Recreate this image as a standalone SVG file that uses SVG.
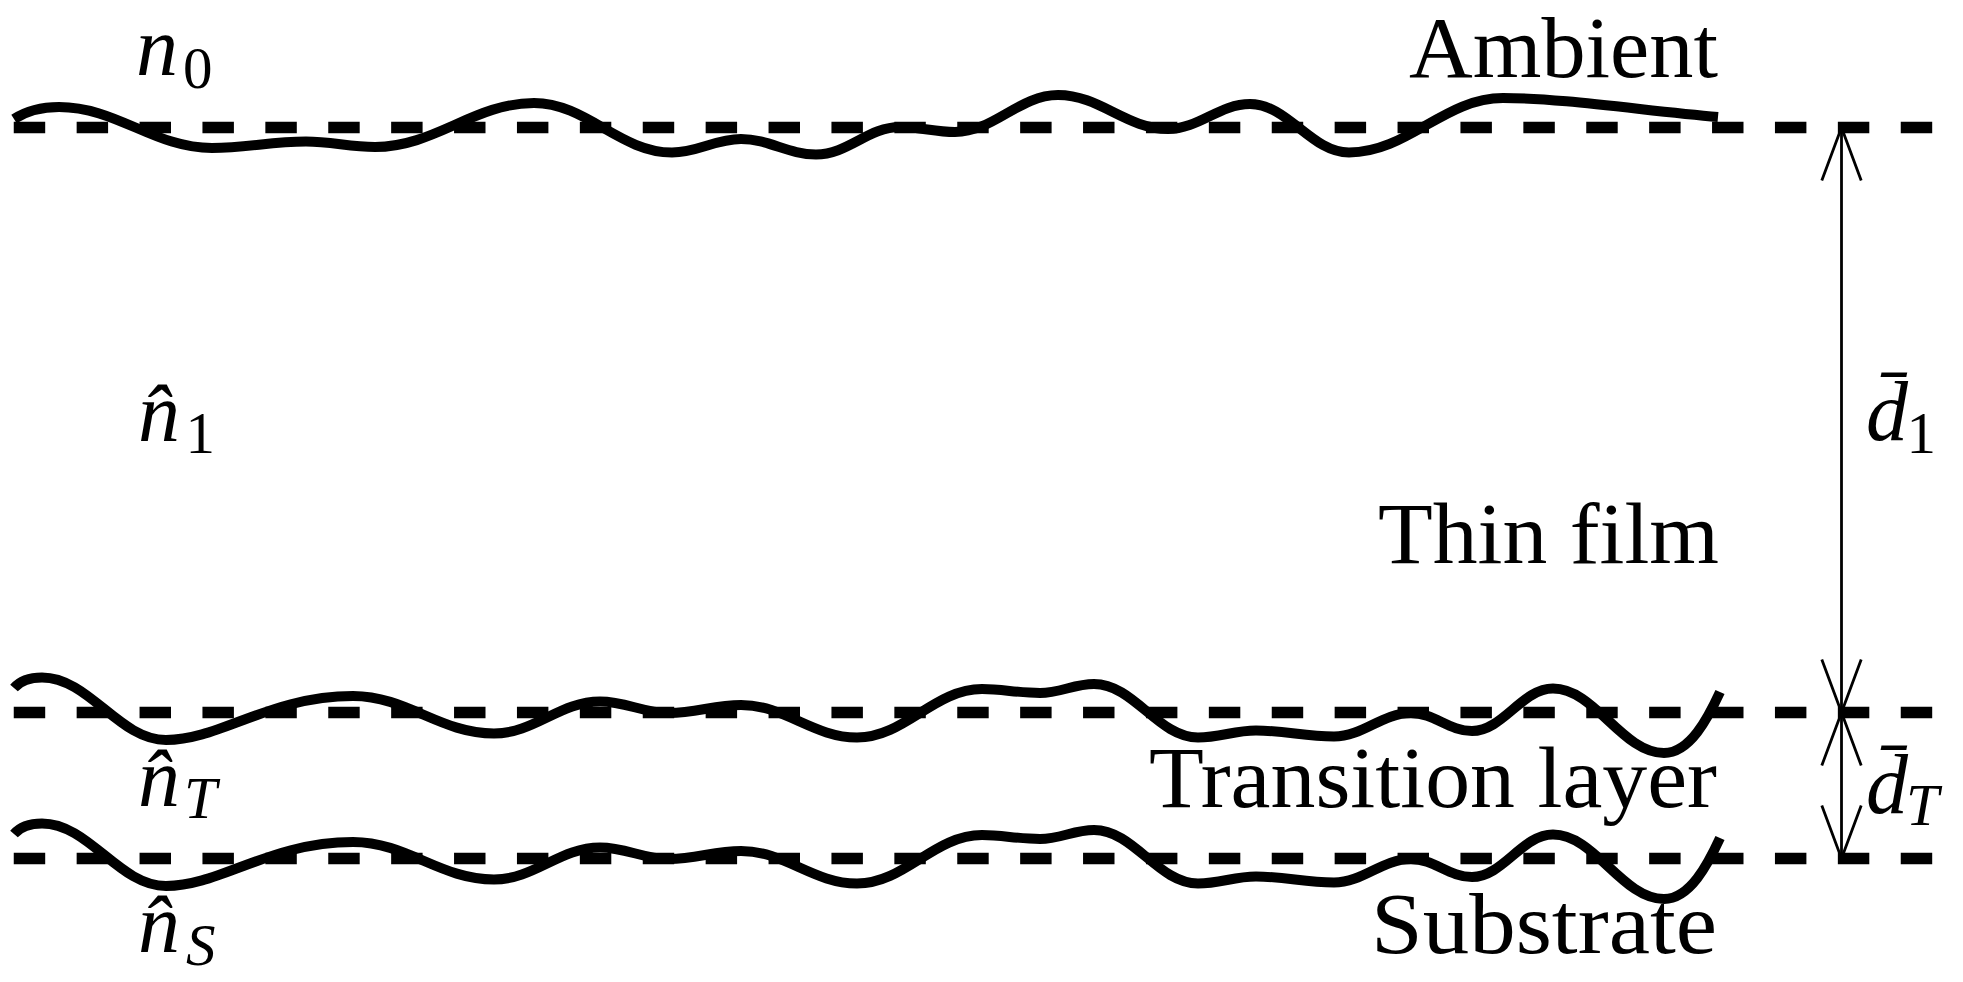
<svg xmlns="http://www.w3.org/2000/svg" width="1963" height="982" viewBox="0 0 1963 982">
<style>
.dash{stroke:#000;stroke-width:11.7;stroke-dasharray:31.45 31.45;fill:none}
.wave{stroke:#000;stroke-width:10;fill:none;stroke-linecap:butt;stroke-linejoin:round}
.arr{stroke:#000;stroke-width:2.8;fill:none}
.t{font-family:"Liberation Serif","Times New Roman",serif;font-size:86px;fill:#000}
.m{font-family:"Liberation Serif","Times New Roman",serif;font-size:84px;font-style:italic;fill:#000}
.s{font-size:59px}
.r{font-style:normal}
</style>
<defs>
<marker id="hd" markerUnits="userSpaceOnUse" markerWidth="60" markerHeight="50" viewBox="0 0 60 50" refX="55" refY="25" orient="auto-start-reverse" overflow="visible">
<path d="M2 5.3 L55 25 L2 44.7" class="arr"/>
</marker>
</defs>
<rect width="1963" height="982" fill="#fff"/>
<g id="reference-lines">
<line class="dash" x1="13.75" y1="127.5" x2="1932.2" y2="127.5"/>
<line class="dash" x1="13.75" y1="712.5" x2="1932.2" y2="712.5"/>
<line class="dash" x1="13.75" y1="858.5" x2="1932.2" y2="858.5"/>
</g>
<g id="interface-top">
<path class="wave" d="M14 119 C28 110 45 107 59 107 C117 107 154 148 212 148 C248 148 270 141.5 306 141.5 C332 141.5 349 147 375 147 C435 147 474 103 534 103 C586 103 620 152.5 672 152.5 C698 152.5 715 139 741 139 C769 139 788 154.5 816 154.5 C848 154.5 868 127 900 127 C921 127 934 132 955 132 C994 132 1019 95 1058 95 C1100 95 1126 129 1168 129 C1199 129 1219 104 1250 104 C1288 104 1311 152.5 1349 152.5 C1408 152.5 1444 98 1503 98 C1560 98 1640 110 1718 117"/>
</g>
<g id="interface-transition">
<path id="rough" class="wave" d="M14 688 C20 681 30 677.5 42 677.5 C89 677.5 119 740 166 740 C220 740 270 696 353 696 C407 696 440 733.5 494 733.5 C534 733.5 560 701.5 600 701.5 C626 701.5 643 713 669 713 C696 713 714 705 741 705 C785 705 813 737.5 857 737.5 C905 737.5 934 689 982 689 C1002 689 1018 693 1040 693 C1060 693 1074 684 1094 684 C1134 684 1158 737.5 1198 737.5 C1220 737.5 1234 730.5 1256 730.5 C1286 730.5 1304 736.5 1334 736.5 C1363 736.5 1382 713 1411 713 C1434 713 1449 731 1472 731 C1503 731 1522 688.5 1553 688.5 C1595 688.5 1622 753 1664 753 C1690 753 1708 718 1720 692"/>
</g>
<g id="interface-substrate">
<use href="#rough" transform="translate(0,146)"/>
</g>
<g id="label-n0"><text class="m" x="136" y="75">n<tspan class="s r" x="183" y="88.3">0</tspan></text></g>
<g id="label-n1"><text class="m" x="138" y="440.7">n̂<tspan class="s r" x="185.5" y="453.3">1</tspan></text></g>
<g id="label-nT"><text class="m" x="138" y="805.7">n̂<tspan class="s" x="184" y="818.3">T</tspan></text></g>
<g id="label-nS"><text class="m" x="138" y="951.7">n̂<tspan class="s" x="186" y="965">S</tspan></text></g>
<g id="label-ambient"><text class="t" x="1409" y="77" font-size="78" textLength="309" lengthAdjust="spacingAndGlyphs">Ambient</text></g>
<g id="label-thinfilm"><text class="t" x="1378" y="563.3" textLength="341" lengthAdjust="spacingAndGlyphs">Thin film</text></g>
<g id="label-transition"><text class="t" x="1149" y="806.7" textLength="568" lengthAdjust="spacingAndGlyphs">Transition layer</text></g>
<g id="label-substrate"><text class="t" x="1371" y="953.3" textLength="346" lengthAdjust="spacingAndGlyphs">Substrate</text></g>
<g id="label-d1"><text class="m" x="1866" y="440">d̄<tspan class="s r" x="1906.5" y="453.3">1</tspan></text></g>
<g id="label-dT"><text class="m" x="1866" y="813.3">d̄<tspan class="s" x="1906" y="825">T</tspan></text></g>
<g id="connectors">
<line class="arr" x1="1841.5" y1="127.5" x2="1841.5" y2="712.5" marker-start="url(#hd)" marker-end="url(#hd)"/>
<line class="arr" x1="1841.5" y1="712.5" x2="1841.5" y2="858.5" marker-start="url(#hd)" marker-end="url(#hd)"/>
</g>
</svg>
